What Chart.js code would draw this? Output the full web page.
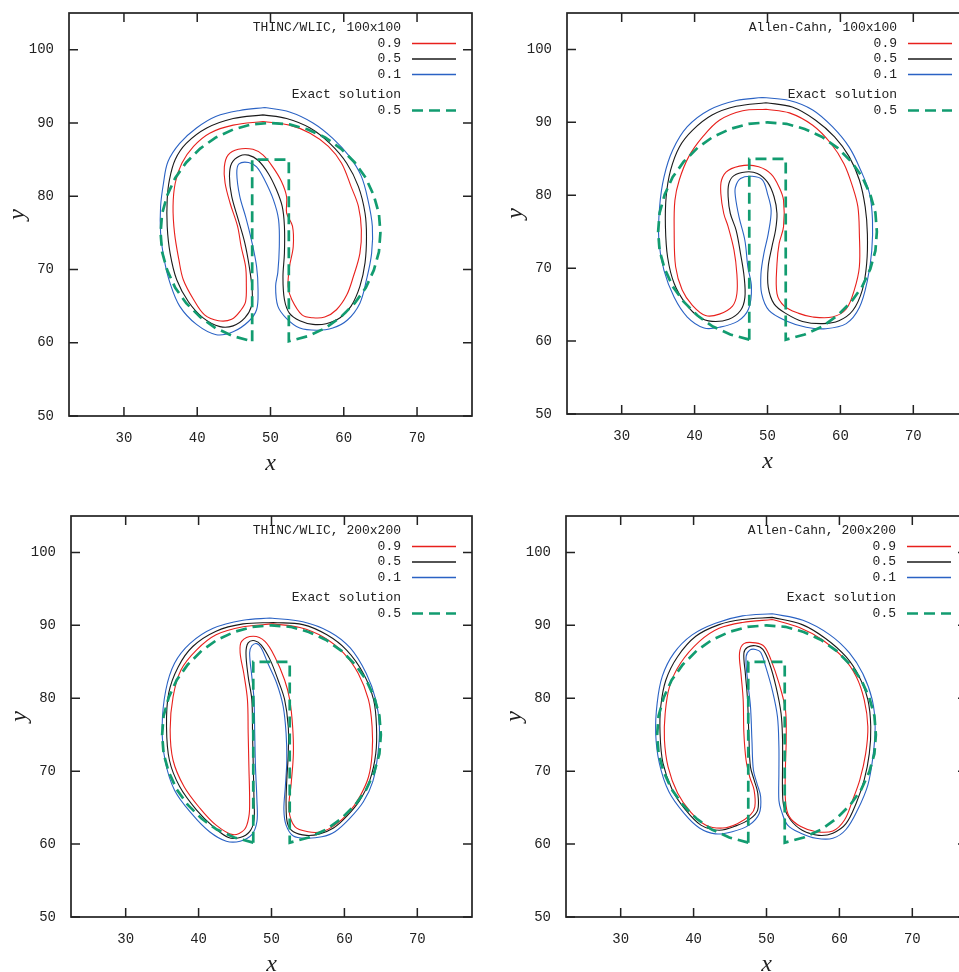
<!DOCTYPE html>
<html><head><meta charset="utf-8">
<script src="https://cdn.jsdelivr.net/npm/chart.js@4/dist/chart.umd.min.js"></script>
<style>
html,body{margin:0;padding:0;background:#fff;overflow:hidden;width:959px;height:972px;}
canvas{position:absolute;}
</style></head><body>
<canvas id="c1"></canvas><canvas id="c2"></canvas><canvas id="c3"></canvas><canvas id="c4"></canvas>
<script>
// ---------- tick labels & ranges ----------
const xTicks = [30, 40, 50, 60, 70];
const yTicks = [50, 60, 70, 80, 90, 100];
const xRange = [22.5, 77.5];
const yRange = [50, 105];

// ---------- legend text ----------
const panelTitles = ['THINC/WLIC, 100x100', 'Allen-Cahn, 100x100', 'THINC/WLIC, 200x200', 'Allen-Cahn, 200x200'];
const levelLabels = ['0.9', '0.5', '0.1'];
const exactTitle = 'Exact solution';
const exactLabel = '0.5';

// ---------- exact solution (slotted disk), contour 0.5 ----------
const exactSolution = [[47.5,60.2],[47.5,85],[52.5,85],[52.5,60.2],[55.1,60.9],[57.5,62.0],[59.6,63.5],[61.5,65.4],[63.0,67.5],[64.1,69.9],[64.8,72.4],[65,75],[64.8,77.6],[64.1,80.1],[63.0,82.5],[61.5,84.6],[59.6,86.5],[57.5,88.0],[55.1,89.1],[52.6,89.8],[50,90],[47.4,89.8],[44.9,89.1],[42.5,88.0],[40.4,86.5],[38.5,84.6],[37.0,82.5],[35.9,80.1],[35.2,77.6],[35,75],[35.2,72.4],[35.9,69.9],[37.0,67.5],[38.5,65.4],[40.4,63.5],[42.5,62.0],[44.9,60.9],[47.5,60.2]];

// ---------- THINC/WLIC 100x100 ----------
const thinc100_l09 = [[49.0,90.2],[44.9,89.7],[41.7,88.6],[39.5,86.8],[37.9,84.5],[37.0,81.8],[36.7,78.6],[36.9,75.0],[37.5,71.3],[38.1,68.6],[39.5,65.9],[41.0,63.8],[42.9,63.0],[44.7,63.2],[46.0,64.5],[46.6,65.6],[46.7,68.1],[46.6,70.4],[46.0,73.1],[45.5,75.9],[44.5,79.0],[43.8,81.8],[43.7,84.0],[44.2,85.6],[45.6,86.4],[47.6,86.4],[49.0,85.6],[50.3,84.0],[51.5,82.0],[52.2,79.9],[52.2,77.7],[53.0,75.9],[53.1,73.1],[52.6,70.4],[52.4,67.7],[52.9,65.9],[54.3,63.8],[55.8,63.4],[57.4,63.5],[59.0,64.5],[60.4,66.5],[61.3,69.0],[62.2,72.2],[62.4,75.4],[62.0,78.6],[61.0,81.3],[59.7,84.5],[57.9,86.8],[55.4,88.6],[52.6,89.7],[49.0,90.2]];
const thinc100_l05 = [[49.0,91.1],[44.9,90.6],[41.3,89.3],[38.5,87.2],[37.0,85.0],[36.2,82.2],[35.9,79.5],[35.9,75.9],[36.3,72.2],[37.2,68.6],[38.8,65.6],[40.8,63.4],[43.1,62.2],[44.9,62.3],[46.5,63.4],[47.4,65.0],[47.5,67.2],[47.1,70.4],[46.5,73.6],[45.6,76.8],[44.7,80.0],[44.4,82.7],[44.7,84.5],[45.8,85.5],[47.0,85.6],[48.3,84.9],[49.7,83.1],[50.8,80.9],[51.6,78.6],[51.9,75.9],[51.9,72.2],[51.7,69.0],[51.9,65.9],[52.6,64.0],[54.0,63.0],[55.8,62.5],[57.6,62.6],[59.5,63.4],[61.0,65.0],[62.2,67.7],[62.9,70.9],[63.1,74.5],[62.9,77.7],[62.0,81.3],[60.4,84.5],[58.1,87.2],[55.4,89.3],[52.2,90.6],[49.0,91.1]];
const thinc100_l01 = [[49.2,92.1],[45.8,91.7],[42.6,90.9],[39.9,89.3],[37.6,87.2],[36.0,84.7],[35.4,81.8],[35.0,78.6],[35.0,75.0],[35.5,71.3],[36.3,68.1],[37.6,65.0],[39.9,62.5],[42.6,61.1],[44.9,61.5],[47.0,62.9],[48.1,64.5],[48.3,67.2],[48.1,70.4],[47.4,74.0],[46.6,77.2],[45.8,80.0],[45.4,83.1],[45.7,84.4],[47.0,84.6],[48.1,84.0],[49.2,82.2],[50.4,79.5],[51.1,76.8],[51.2,73.1],[51.0,69.6],[50.7,67.7],[51.0,65.0],[52.2,63.3],[54.0,62.0],[56.3,61.7],[58.5,62.0],[60.5,63.1],[62.2,65.4],[63.1,68.6],[63.8,72.2],[63.9,75.9],[63.3,79.5],[62.4,82.7],[60.8,85.4],[58.5,87.9],[55.8,90.0],[52.6,91.5],[49.2,92.1]];

// ---------- Allen-Cahn 100x100 ----------
const allen100_l09 = [[49.8,91.8],[46.6,91.6],[43.4,90.3],[41.1,88.0],[39.2,85.3],[37.9,82.1],[37.3,79.3],[37.2,75.2],[37.4,70.2],[38.3,67.0],[39.7,64.9],[41.5,63.5],[43.4,63.7],[45.2,64.8],[45.8,66.5],[45.8,69.2],[45.4,72.5],[44.6,75.7],[44.0,77.5],[43.6,80.2],[43.7,82.1],[44.6,83.4],[46.8,84.1],[48.8,83.9],[50.5,82.9],[51.6,81.1],[52.2,79.3],[52.2,75.7],[51.6,73.4],[51.3,70.6],[51.3,66.5],[52.3,64.8],[54.3,63.8],[56.2,63.3],[58.9,63.3],[60.8,64.4],[61.9,67.0],[62.6,70.2],[62.6,74.7],[62.4,78.4],[61.7,81.1],[60.5,84.3],[58.7,87.1],[56.2,89.6],[53.0,91.3],[49.8,91.8]];
const allen100_l05 = [[49.8,92.7],[45.7,92.2],[42.4,91.0],[39.7,88.9],[37.9,86.6],[36.7,83.4],[36.1,79.8],[36.0,75.7],[36.3,71.5],[37.2,67.9],[38.8,65.1],[40.6,63.3],[42.4,62.7],[44.7,63.0],[46.3,64.2],[46.9,66.0],[46.8,68.8],[46.3,72.0],[45.7,75.2],[44.9,77.5],[44.6,79.8],[44.7,81.6],[45.4,82.7],[47.0,83.2],[48.6,83.0],[50.0,81.8],[50.9,79.8],[51.3,77.5],[51.1,75.2],[50.6,72.9],[50.1,70.2],[50.1,67.4],[50.9,65.1],[52.5,63.8],[54.8,62.7],[57.6,62.4],[59.8,62.8],[61.7,64.2],[63.0,67.0],[63.6,70.6],[63.7,74.7],[63.4,78.4],[62.6,82.1],[61.2,85.3],[59.2,88.0],[56.6,90.3],[53.4,92.1],[49.8,92.7]];
const allen100_l01 = [[49.3,93.4],[45.7,93.0],[42.0,91.7],[39.0,89.4],[37.0,86.2],[35.8,82.5],[35.2,78.4],[35.1,73.8],[35.8,69.7],[37.2,66.0],[39.0,63.3],[41.3,61.8],[43.4,61.9],[45.9,62.7],[47.4,64.4],[47.8,67.4],[47.3,70.2],[46.9,73.8],[46.1,77.0],[45.6,79.8],[45.6,81.1],[46.3,82.3],[47.9,82.6],[49.3,82.1],[50.0,80.2],[50.5,77.9],[50.1,74.7],[49.5,72.0],[49.1,69.2],[49.2,66.5],[50.2,64.2],[52.5,62.8],[55.3,61.9],[58.0,61.7],[60.8,62.4],[62.6,64.6],[63.7,68.3],[64.3,72.4],[64.4,76.6],[64.0,80.2],[62.8,83.4],[61.2,86.6],[58.9,89.4],[56.2,91.7],[53.0,93.0],[49.3,93.4]];

// ---------- THINC/WLIC 200x200 ----------
const thinc200_l09 = [[50.2,90.2],[46.1,89.8],[42.4,88.7],[39.7,86.6],[37.6,83.9],[36.5,80.2],[36.1,75.7],[36.5,71.5],[38.0,67.9],[40.2,64.9],[42.4,62.6],[44.7,61.3],[46.3,62.0],[46.9,63.8],[47.0,66.0],[46.9,70.6],[46.8,75.2],[46.7,79.8],[46.2,83.4],[45.7,86.2],[45.9,87.8],[47.5,88.5],[49.1,87.8],[50.5,85.6],[51.8,82.5],[52.5,79.8],[52.9,76.1],[53.0,72.4],[52.7,68.3],[52.4,64.7],[53.2,62.4],[55.0,61.7],[56.9,61.7],[58.7,62.6],[60.5,64.2],[62.1,66.5],[63.3,69.2],[63.8,72.4],[63.8,76.1],[63.3,79.8],[61.9,83.4],[59.9,86.2],[57.1,88.4],[53.9,89.7],[50.2,90.2]];
const thinc200_l05 = [[50.2,90.4],[46.1,90.2],[42.4,89.2],[39.2,87.1],[37.2,84.3],[35.9,80.7],[35.6,76.1],[36.0,71.5],[37.4,67.9],[39.7,64.7],[42.0,62.4],[44.1,60.9],[45.7,60.9],[47.0,61.7],[47.6,63.3],[47.6,66.0],[47.5,70.6],[47.4,75.2],[47.3,79.8],[46.8,83.0],[46.5,86.2],[46.8,87.6],[47.7,87.9],[48.6,87.3],[49.8,85.3],[50.9,82.5],[51.8,79.8],[52.3,76.1],[52.3,72.4],[52.1,68.8],[52.0,65.6],[52.2,62.8],[53.0,61.7],[54.8,61.2],[56.6,61.4],[58.5,62.2],[60.3,63.8],[62.1,66.0],[63.5,68.8],[64.3,72.4],[64.4,76.1],[64.0,79.8],[62.6,83.4],[60.3,86.6],[57.6,88.7],[54.3,90.1],[50.2,90.4]];
const thinc200_l01 = [[49.8,91.0],[46.1,90.7],[42.0,89.6],[38.8,87.5],[36.7,84.8],[35.5,81.1],[35.0,76.1],[35.4,71.5],[36.7,67.4],[39.2,64.0],[41.5,61.7],[43.8,60.4],[45.7,60.4],[47.3,61.3],[48.0,63.1],[48.0,66.0],[47.8,70.6],[47.7,75.2],[47.6,79.8],[47.3,83.0],[47.0,86.2],[47.3,87.2],[48.0,87.5],[48.6,86.9],[49.5,84.8],[50.7,82.1],[51.6,78.9],[52.0,75.2],[52.1,71.5],[51.9,67.9],[51.7,64.7],[52.0,62.6],[53.0,61.1],[54.8,60.8],[56.9,61.0],[58.7,61.7],[60.8,63.6],[62.6,65.8],[63.9,68.6],[64.6,72.4],[64.8,76.1],[64.3,79.8],[63.0,83.4],[60.8,86.9],[58.0,89.1],[54.3,90.5],[49.8,91.0]];

// ---------- Allen-Cahn 200x200 ----------
const allen200_l09 = [[50.8,90.8],[46.7,90.4],[43.5,89.6],[40.8,87.8],[38.2,84.8],[36.7,81.6],[36.1,77.9],[36.0,74.3],[36.5,70.6],[37.8,67.0],[39.6,64.4],[41.7,62.6],[44.0,62.2],[46.0,62.8],[47.8,64.0],[48.4,65.1],[48.3,67.4],[47.7,69.2],[47.2,71.5],[46.9,75.2],[46.8,79.8],[46.5,83.4],[46.3,86.2],[46.9,87.5],[48.5,87.6],[49.7,87.1],[50.6,85.3],[51.7,82.1],[52.6,78.4],[52.7,74.3],[52.6,70.6],[52.6,66.0],[53.1,63.8],[54.7,62.4],[56.8,61.7],[59.1,61.8],[60.7,63.3],[61.8,66.0],[62.8,68.8],[63.6,72.4],[63.9,76.1],[63.4,79.8],[62.3,83.0],[60.4,85.7],[57.7,88.0],[54.5,89.7],[50.8,90.8]];
const allen200_l05 = [[50.8,91.1],[46.7,90.8],[43.5,90.1],[40.3,88.5],[37.8,85.7],[36.2,82.5],[35.5,78.9],[35.4,75.2],[35.8,71.1],[37.1,67.4],[38.9,64.7],[41.0,62.6],[43.5,61.9],[45.8,62.5],[47.8,63.5],[48.8,64.7],[48.8,67.0],[48.3,68.8],[47.8,70.6],[47.6,74.3],[47.4,79.8],[47.1,83.4],[46.9,86.2],[47.4,87.0],[48.5,87.2],[49.5,86.7],[50.4,84.8],[51.3,81.6],[52.0,77.9],[52.2,74.3],[52.2,70.6],[52.2,67.0],[52.4,65.1],[53.3,63.3],[54.9,61.9],[57.2,61.2],[59.1,61.5],[60.9,62.8],[62.3,65.6],[63.4,68.8],[64.1,72.4],[64.3,76.1],[63.9,79.8],[62.7,83.0],[60.9,85.7],[58.1,88.2],[54.9,90.1],[50.8,91.1]];
const allen200_l01 = [[50.8,91.6],[46.7,91.3],[43.0,90.3],[39.8,88.7],[37.3,86.2],[35.7,83.0],[35.0,79.3],[34.8,75.2],[35.3,71.1],[36.6,67.2],[38.7,64.2],[40.8,62.2],[43.0,61.4],[45.3,61.7],[47.6,62.6],[49.0,64.2],[49.2,66.5],[48.7,68.3],[48.2,70.2],[48.0,74.3],[47.8,78.9],[47.4,82.5],[47.2,85.7],[47.7,86.6],[48.5,86.7],[49.2,86.3],[49.9,84.3],[50.8,81.1],[51.5,77.5],[51.7,73.4],[51.7,69.7],[51.7,66.0],[52.0,64.7],[52.9,62.6],[54.7,61.5],[56.8,60.8],[59.1,60.8],[60.9,62.0],[62.5,64.7],[63.9,68.1],[64.6,72.0],[64.9,76.1],[64.5,79.8],[63.2,83.4],[61.4,86.2],[58.7,88.7],[55.0,90.7],[50.8,91.6]];

// ---------- styles ----------
const RED = '#e8201c', BLACK = '#1a1a1a', BLUE = '#2a62c4', GREEN = '#129c70', AXIS = '#222';

const framePlugin = {
  id: 'frame',
  afterDraw(chart, args, opts) {
    const {ctx, chartArea: a, scales: {x, y}} = chart;
    ctx.save();
    ctx.strokeStyle = AXIS; ctx.lineWidth = 1.5; ctx.lineCap = 'butt';
    ctx.beginPath();
    const TL = 9;
    for (const t of x.ticks) {
      const px = x.getPixelForValue(t.value);
      ctx.moveTo(px, a.bottom); ctx.lineTo(px, a.bottom - TL);
      ctx.moveTo(px, a.top); ctx.lineTo(px, a.top + TL);
    }
    for (const t of y.ticks) {
      const py = y.getPixelForValue(t.value);
      ctx.moveTo(a.left, py); ctx.lineTo(a.left + TL, py);
      ctx.moveTo(a.right, py); ctx.lineTo(a.right - TL, py);
    }
    ctx.stroke();
    ctx.lineWidth = 1.7;
    ctx.strokeRect(a.left, a.top, a.right - a.left, a.bottom - a.top);
    // legend
    ctx.font = '13px "Liberation Mono", monospace';
    ctx.fillStyle = '#222'; ctx.textAlign = 'right'; ctx.textBaseline = 'middle';
    const tx = a.right - 71, l0 = a.right - 60, l1 = a.right - 16;
    const rows = [15, 30.5, 46, 61.5, 82, 97.5];
    ctx.fillText(opts.title, tx, a.top + rows[0]);
    const cols = [RED, BLACK, BLUE];
    for (let i = 0; i < 3; i++) {
      ctx.fillText(levelLabels[i], tx, a.top + rows[i + 1]);
      ctx.strokeStyle = cols[i]; ctx.lineWidth = 1.3;
      ctx.beginPath(); ctx.moveTo(l0, a.top + rows[i + 1]); ctx.lineTo(l1, a.top + rows[i + 1]); ctx.stroke();
    }
    ctx.fillText(exactTitle, tx, a.top + rows[4]);
    ctx.fillText(exactLabel, tx, a.top + rows[5]);
    ctx.strokeStyle = GREEN; ctx.lineWidth = 2.7; ctx.setLineDash([11, 6]);
    ctx.beginPath(); ctx.moveTo(l0, a.top + rows[5]); ctx.lineTo(l1, a.top + rows[5]); ctx.stroke();
    ctx.restore();
  }
};

const toPts = arr => arr.map(p => ({x: p[0], y: p[1]}));

function makePanel(id, area, title, curves) {
  const cv = document.getElementById(id);
  const W = 69 + area.w + 8, H = 13 + area.h + 74;
  cv.width = W; cv.height = H;
  cv.style.width = W + 'px'; cv.style.height = H + 'px';
  cv.style.left = (area.l - 69) + 'px'; cv.style.top = (area.t - 13) + 'px';
  const line = (data, color, width, order, tension, dash) => ({
    data: toPts(data), showLine: true, borderColor: color, backgroundColor: color,
    borderWidth: width, pointRadius: 0, tension: tension, order: order,
    borderDash: dash || [], fill: false
  });
  new Chart(cv, {
    type: 'scatter',
    data: {datasets: [
      line(exactSolution, GREEN, 2.7, 0, 0, [11, 6]),
      line(curves[0], RED, 1.1, 1, 0.35),
      line(curves[1], BLACK, 1.1, 2, 0.35),
      line(curves[2], BLUE, 1.1, 3, 0.35)
    ]},
    options: {
      responsive: false, animation: false, events: [],
      layout: {padding: {top: 13, right: 8, left: 0, bottom: 0}},
      plugins: {legend: {display: false}, tooltip: {enabled: false}, frame: {title: title}},
      scales: {
        x: {
          type: 'linear', min: xRange[0], max: xRange[1],
          afterBuildTicks: s => { s.ticks = xTicks.map(v => ({value: v})); },
          afterFit: s => { s.height = 74; s.paddingLeft = 0; s.paddingRight = 0; s.paddingTop = 0; s.paddingBottom = 0; },
          grid: {display: false, drawTicks: false}, border: {display: false},
          ticks: {padding: 14, color: AXIS, font: {family: 'Liberation Mono', size: 14}},
          title: {display: true, text: 'x', color: AXIS, font: {family: 'Liberation Serif', size: 24, style: 'italic'}, padding: {top: 0, bottom: 12}}
        },
        y: {
          type: 'linear', min: yRange[0], max: yRange[1],
          afterBuildTicks: s => { s.ticks = yTicks.map(v => ({value: v})); },
          afterFit: s => { s.width = 69; s.paddingLeft = 0; s.paddingRight = 0; s.paddingTop = 0; s.paddingBottom = 0; },
          grid: {display: false, drawTicks: false}, border: {display: false},
          ticks: {padding: 15, color: AXIS, font: {family: 'Liberation Mono', size: 14}},
          title: {display: true, text: 'y', color: AXIS, font: {family: 'Liberation Serif', size: 24, style: 'italic'}, padding: {top: 3, bottom: 0}}
        }
      }
    },
    plugins: [framePlugin]
  });
}

makePanel('c1', {l: 69, t: 13, w: 403, h: 403}, panelTitles[0], [thinc100_l09, thinc100_l05, thinc100_l01]);
makePanel('c2', {l: 567, t: 13, w: 401, h: 401}, panelTitles[1], [allen100_l09, allen100_l05, allen100_l01]);
makePanel('c3', {l: 71, t: 516, w: 401, h: 401}, panelTitles[2], [thinc200_l09, thinc200_l05, thinc200_l01]);
makePanel('c4', {l: 566, t: 516, w: 401, h: 401}, panelTitles[3], [allen200_l09, allen200_l05, allen200_l01]);
</script>
</body></html>
